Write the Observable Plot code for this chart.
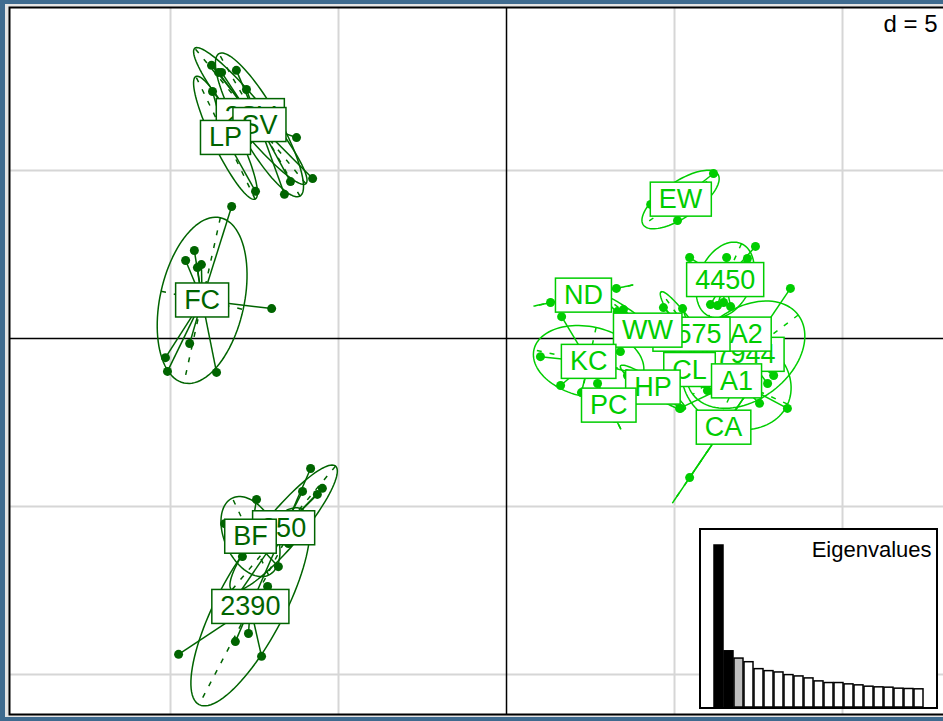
<!DOCTYPE html>
<html>
<head>
<meta charset="utf-8">
<script src="https://cdn.jsdelivr.net/npm/d3@7"></script>
<script src="https://cdn.jsdelivr.net/npm/@observablehq/plot@0.6"></script>
<style>
  html, body { margin: 0; padding: 0; background: #3f6b8f; }
  #wrap { position: absolute; left: 0; top: 0; width: 943px; height: 721px; overflow: hidden; }
  #edge { position: absolute; left: 5px; top: 4px; width: 960px; height: 713px; background: #e4e4e4; }
  #main { position: absolute; left: 0; top: 0; width: 960px; height: 721px; }
  #main svg { max-width: none !important; width: 960px !important; height: 721px !important; }
  #inset { position: absolute; left: 699px; top: 528px; border: 2px solid #000; background: #fff; width: 235px; height: 177px; }
  #inset svg { max-width: none !important; }
  svg { font-family: "Liberation Sans", Arial, sans-serif; }
</style>
</head>
<body>
<div id="wrap">
  <div id="edge"></div>
  <div id="main"></div>
  <div id="inset"></div>
</div>
<script>
// Populations, in the order their labels are drawn (later ones sit on top)
const groups = ["2SV", "SV", "LP", "FC", "250", "BF", "2390",
  "EW", "4450", "ND", "7944", "A2", "1575", "WW", "KC", "CL", "HP", "PC", "A1", "CA"];
// Genetic cluster of each population
const cluster = ["West", "West", "West", "West", "West", "West", "West",
  "East", "East", "East", "East", "East", "East", "East", "East", "East", "East", "East", "East", "East"];

// Discriminant function 1 scores of the individuals, by population
const axis1 = {
  "2SV": [-8.48, -8.57, -5.77, -7.68],
  "SV": [-8.04, -7.74, -6.25, -6.43, -8.78, -6.61, -7.62],
  "LP": [-8.75, -7.47, -8.87],
  "FC": [-8.18, -9.29, -9.55, -9.20, -9.08, -6.99, -9.43, -10.15, -10.09, -8.63],
  "250": [-5.48, -5.63, -6.07, -6.49, -8.21, -7.92],
  "BF": [-7.44, -7.86, -6.79, -8.39],
  "2390": [-9.76, -8.07, -7.68, -7.29, -7.11, -5.83],
  "EW": [6.16, 5.09, 4.29],
  "4450": [5.45, 6.55, 7.17, 7.41, 6.07, 6.28, 6.46, 6.67],
  "ND": [1.31, 3.27],
  "7944": [8.45, 7.95, 7.77, 5.77, 5.63],
  "A2": [6.58, 7.56, 7.26],
  "1575": [4.67, 5.24, 5.77, 6.34],
  "WW": [3.30, 3.48, 4.67, 5.33],
  "KC": [1.01, 1.64, 1.61, 2.23, 3.39, 4.43, 2.80],
  "CL": [5.98, 4.88, 5.48],
  "HP": [3.60, 4.29, 5.18],
  "PC": [2.71, 3.24, 3.18],
  "A1": [5.15, 8.36, 7.53, 6.37, 6.82],
  "CA": [5.45, 7.47]
};
// Discriminant function 2 scores of the individuals, by population
const axis2 = {
  "2SV": [7.92, 7.92, 4.76, 5.89],
  "SV": [7.98, 7.41, 5.98, 4.67, 8.13, 4.29, 6.04],
  "LP": [7.35, 4.38, 6.19],
  "FC": [3.93, 2.62, 2.32, 2.11, 2.20, 0.89, -0.15, -0.57, -0.98, -1.01],
  "250": [-4.46, -4.64, -4.55, -6.10, -7.95, -6.16],
  "BF": [-4.79, -6.49, -6.79, -5.51],
  "2390": [-9.40, -9.02, -8.78, -9.46, -7.38, -3.87],
  "EW": [4.91, 3.51, 3.99],
  "4450": [2.41, 2.41, 2.38, 2.74, 1.01, 0.98, 1.07, 0.95],
  "ND": [1.07, 1.49],
  "7944": [1.49, -1.10, -1.34, -1.25, -0.21],
  "A2": [0.54, -0.21, 0.03],
  "1575": [0.92, 0.89, -0.21, -1.13],
  "WW": [0.80, 0.86, 0.09, -0.80],
  "KC": [-0.54, 0.65, -1.40, -1.61, -0.39, -1.19, -0.36],
  "CL": [-1.55, -0.36, -0.89],
  "HP": [-1.10, -1.19, -2.08],
  "PC": [-1.34, -2.38, -2.26],
  "A1": [-2.08, -2.08, -1.93, -0.51, 0.24],
  "CA": [-4.14, -1.16]
};

// Eigenvalues of the discriminant analysis
const eigenvalues = [49.0, 17.0, 14.8, 13.7, 11.6, 11.0, 10.6, 9.8, 9.4, 8.8, 7.9,
  7.4, 7.4, 7.0, 6.7, 6.3, 6.1, 6.0, 5.7, 5.6, 5.5];
const axesShown = 2;   // eigenvalues of the plotted axes
const axesKept = 3;    // eigenvalues retained

const gridStep = 5;
const gridX = [-10, -5, 5, 10];
const gridY = [-10, -5, 5];

const clusterColors = { West: "#006400", East: "#00cd00" };
const colorOf = g => clusterColors[cluster[groups.indexOf(g)]];

// individuals, centroids, star segments
const inds = groups.flatMap(g => axis1[g].map((x, i) => ({ g, x, y: axis2[g][i] })));
const centroids = groups.map(g => ({ g, x: d3.mean(axis1[g]), y: d3.mean(axis2[g]) }));
const stars = inds.map(d => {
  const c = centroids.find(c => c.g === d.g);
  return { g: d.g, x1: d.x, y1: d.y, x2: c.x, y2: c.y };
});

// inertia ellipse (1.5 standard deviations) and its axes for one population
function ellipse(g, coeff = 1.5) {
  const xs = axis1[g], ys = axis2[g], n = xs.length;
  const mx = d3.mean(xs), my = d3.mean(ys);
  let vx = 0, vy = 0, cxy = 0;
  for (let i = 0; i < n; i++) {
    vx += (xs[i] - mx) ** 2 / n;
    vy += (ys[i] - my) ** 2 / n;
    cxy += (xs[i] - mx) * (ys[i] - my) / n;
  }
  const delta = Math.sqrt((vx - vy) ** 2 + 4 * cxy * cxy);
  let l1 = (vx + vy + delta) / 2, l2 = vx + vy - l1;
  l1 = Math.sqrt(Math.max(l1, 0)); l2 = Math.sqrt(Math.max(l2, 0));
  let a0, b0;
  if (Math.abs(cxy) < 1e-10) { if (vx > vy) { a0 = 1; b0 = 0; } else { a0 = 0; b0 = 1; } }
  else {
    a0 = 1; b0 = (l1 * l1 - vx) / cxy;
    const nrm = Math.hypot(a0, b0); a0 /= nrm; b0 /= nrm;
  }
  const c11 = coeff * a0 * l1, c12 = -coeff * b0 * l2, c21 = coeff * b0 * l1, c22 = coeff * a0 * l2;
  const path = d3.range(101).map(i => {
    const t = 2 * Math.PI * i / 100;
    return { g, x: mx + c11 * Math.cos(t) + c12 * Math.sin(t), y: my + c21 * Math.cos(t) + c22 * Math.sin(t) };
  });
  const axes = [
    { g, x1: mx + c11, y1: my + c21, x2: mx - c11, y2: my - c21 },
    { g, x1: mx + c12, y1: my + c22, x2: mx - c12, y2: my - c22 }
  ];
  return { path, axes };
}
const ellipses = groups.map(g => ellipse(g));
const ellipsePaths = ellipses.flatMap(e => e.path);
const ellipseAxes = ellipses.flatMap(e => e.axes);

const main = Plot.plot({
  width: 960, height: 721,
  marginLeft: 9, marginRight: 10, marginTop: 7, marginBottom: 7,
  x: { domain: [-14.792, 13.214], axis: null },
  y: { domain: [-11.19, 9.851], axis: null },
  style: { background: "transparent", overflow: "visible" },
  marks: [
    Plot.frame({ fill: "white" }),
    Plot.ruleX(gridX, { stroke: "#d6d6d6", strokeWidth: 2 }),
    Plot.ruleY(gridY, { stroke: "#d6d6d6", strokeWidth: 2 }),
    Plot.ruleX([0], { stroke: "black", strokeWidth: 1.5 }),
    Plot.ruleY([0], { stroke: "black", strokeWidth: 1.5 }),
    Plot.line(ellipsePaths, { x: "x", y: "y", z: "g", stroke: d => colorOf(d.g), strokeWidth: 1.5, curve: "linear" }),
    Plot.link(ellipseAxes, { x1: "x1", y1: "y1", x2: "x2", y2: "y2", stroke: d => colorOf(d.g), strokeWidth: 1.5, strokeDasharray: "5,8" }),
    Plot.link(stars, { x1: "x1", y1: "y1", x2: "x2", y2: "y2", stroke: d => colorOf(d.g), strokeWidth: 1.5 }),
    Plot.dot(inds, { x: "x", y: "y", r: 4.5, fill: d => colorOf(d.g), stroke: "none" }),
    Plot.text(centroids, { x: "x", y: "y", text: "g", fill: d => colorOf(d.g), fontSize: 27 }),
    Plot.text([`d = ${gridStep}`], { frameAnchor: "top-right", textAnchor: "end", dx: -13, dy: 7, fontSize: 24, fill: "black" }),
    Plot.frame({ stroke: "black", strokeWidth: 2 })
  ]
});
document.getElementById("main").appendChild(main);

// white boxes behind the population labels
d3.select(main).selectAll("text")
  .filter(function () { return groups.includes(this.textContent); })
  .each(function () {
    const node = this;
    const b = node.getBBox();
    const fill = node.getAttribute("fill") || node.parentNode.getAttribute("fill");
    const cx = b.x + b.width / 2;
    const cy = b.y + b.height / 2;
    d3.select(node.parentNode).insert("rect", () => node)
      .attr("x", cx - b.width / 2 - 8.5).attr("y", cy - 17)
      .attr("width", b.width + 17).attr("height", 34)
      .attr("transform", node.getAttribute("transform"))
      .attr("fill", "white").attr("stroke", fill).attr("stroke-width", 1.5);
  });

const inset = Plot.plot({
  width: 235, height: 177,
  marginLeft: 7, marginRight: 8, marginTop: 15, marginBottom: 0,
  x: { type: "band", domain: d3.range(eigenvalues.length), paddingInner: 0.12, paddingOuter: 0.02, axis: null },
  y: { domain: [0, d3.max(eigenvalues)], axis: null },
  style: { background: "white", overflow: "visible" },
  marks: [
    Plot.barY(eigenvalues, {
      x: (d, i) => i, y: d => d,
      fill: (d, i) => i < axesShown ? "black" : i < axesKept ? "#bebebe" : "white",
      stroke: "black", strokeWidth: 1.5
    }),
    Plot.text(["Eigenvalues"], { frameAnchor: "top-right", textAnchor: "end", dx: 3, dy: -4, fontSize: 22, fill: "black" })
  ]
});
document.getElementById("inset").appendChild(inset);
</script>
</body>
</html>
